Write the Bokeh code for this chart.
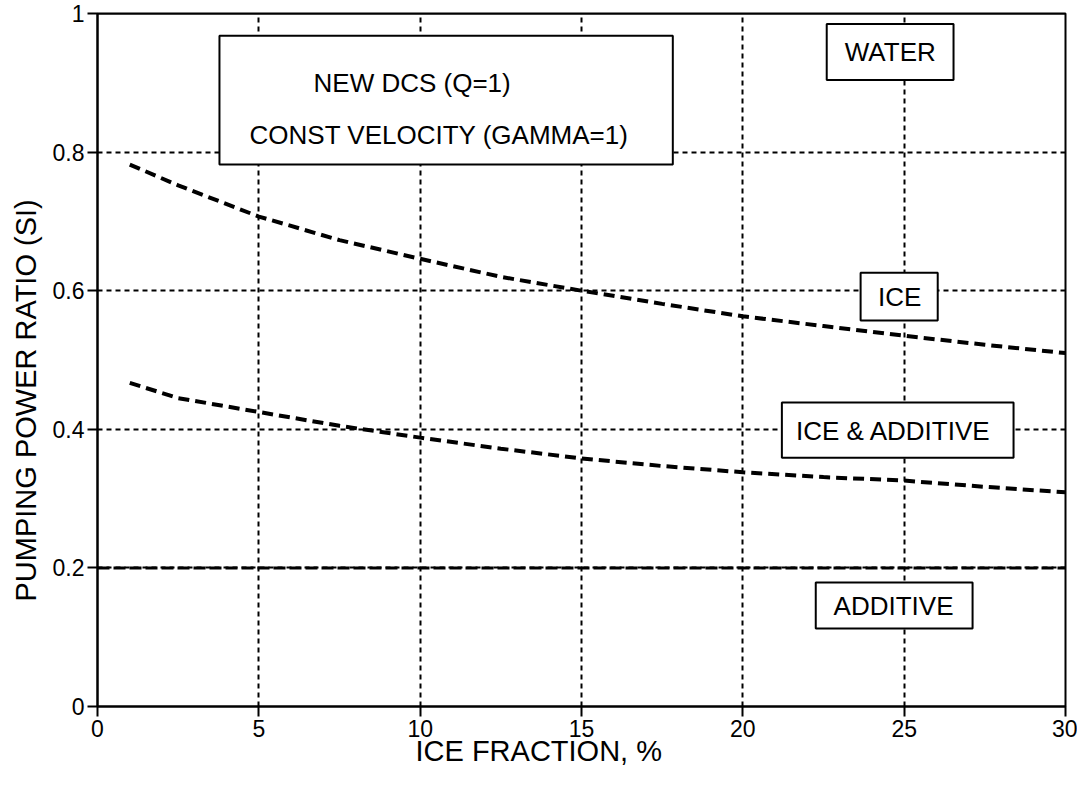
from bokeh.plotting import figure
from bokeh.models import Range1d, Label, BoxAnnotation, Title
from bokeh.embed import file_html
from bokeh.resources import INLINE

# ---- data ----
ice_fraction = [1, 2.5, 5, 7.5, 10, 12.5, 15, 17.5, 20, 22.5, 25, 27.5, 30]
ice = [0.782, 0.752, 0.707, 0.673, 0.646, 0.620, 0.600, 0.581, 0.563, 0.549, 0.535, 0.522, 0.510]
ice_additive = [0.467, 0.445, 0.425, 0.405, 0.388, 0.372, 0.358, 0.347, 0.338, 0.331, 0.326, 0.317, 0.309]
additive_x = [0, 30]
additive = [0.2, 0.2]
water_x = [0, 30]
water = [1.0, 1.0]

x_ticks = [0, 5, 10, 15, 20, 25, 30]
y_ticks = [0, 0.2, 0.4, 0.6, 0.8, 1.0]
y_tick_labels = {0: "0", 1: "1"}

x_label = "ICE FRACTION, %"
y_label = "PUMPING POWER RATIO (SI)"
title_lines = ["NEW DCS (Q=1)", "CONST VELOCITY (GAMMA=1)"]
series_names = ["WATER", "ICE", "ICE & ADDITIVE", "ADDITIVE"]

FONT = "Liberation Sans"

p = figure(width=1077, height=777, output_backend="svg", toolbar_location=None,
           x_range=Range1d(0, 30), y_range=Range1d(0, 1),
           min_border_left=96, min_border_right=12, min_border_top=13, min_border_bottom=71)
p.background_fill_color = "white"
p.border_fill_color = "white"
p.outline_line_color = "black"
p.outline_line_width = 2

for ax in (p.xaxis[0], p.yaxis[0]):
    ax.axis_line_width = 2
    ax.axis_line_color = "black"
    ax.major_tick_line_width = 2
    ax.major_tick_line_color = "black"
    ax.major_tick_out = 10
    ax.major_tick_in = 0
    ax.minor_tick_line_color = None
    ax.major_label_text_font = FONT
    ax.major_label_text_font_size = "23px"
    ax.major_label_text_color = "black"
    ax.major_label_standoff = 3

p.xaxis.ticker = x_ticks
p.yaxis.ticker = y_ticks
p.yaxis.major_label_overrides = y_tick_labels

for g in (p.xgrid[0], p.ygrid[0]):
    g.grid_line_color = "black"
    g.grid_line_dash = "5 4"
    g.grid_line_width = 2
    g.grid_line_alpha = 1.0

# curves
p.line(water_x, water, line_color="black", line_width=2)
p.line(ice_fraction, ice, line_color="black", line_width=4, line_dash="11 6")
p.line(ice_fraction, ice_additive, line_color="black", line_width=4, line_dash="11 6")
p.line(additive_x, additive, line_color="black", line_width=3, line_dash="12 4")

# boxes with labels
boxes = [
    (3.78, 17.83, 0.968, 0.782),   # title box
    (22.60, 26.53, 0.985, 0.904),  # WATER
    (23.65, 26.04, 0.626, 0.557),  # ICE
    (21.21, 28.39, 0.4385, 0.359), # ICE & ADDITIVE
    (22.26, 27.12, 0.179, 0.1125), # ADDITIVE
]
for l, r, t, b in boxes:
    p.add_layout(BoxAnnotation(left=l, right=r, top=t, bottom=b,
                               fill_color="white", fill_alpha=1.0,
                               line_color="black", line_width=2, line_alpha=1.0))

texts = [
    (title_lines[0], 9.75, 0.900),
    (title_lines[1], 10.59, 0.824),
    (series_names[0], 24.57, 0.945),
    (series_names[1], 24.86, 0.591),
    (series_names[2], 24.67, 0.398),
    (series_names[3], 24.67, 0.1457),
]
for txt, x, y in texts:
    p.add_layout(Label(x=x, y=y, text=txt, text_font=FONT, text_font_size="26px",
                       text_color="black", text_align="center", text_baseline="middle"))

# axis titles (placed as side titles so they can be offset like the reference)
p.add_layout(Title(text=x_label, text_font=FONT, text_font_size="29px", text_font_style="normal",
                   text_color="black", align="left", offset=318, standoff=-14), "below")
p.add_layout(Title(text=y_label, text_font=FONT, text_font_size="29px", text_font_style="normal",
                   text_color="black", align="left", offset=105, standoff=15), "left")

open("out.html", "w").write(file_html(p, INLINE))
